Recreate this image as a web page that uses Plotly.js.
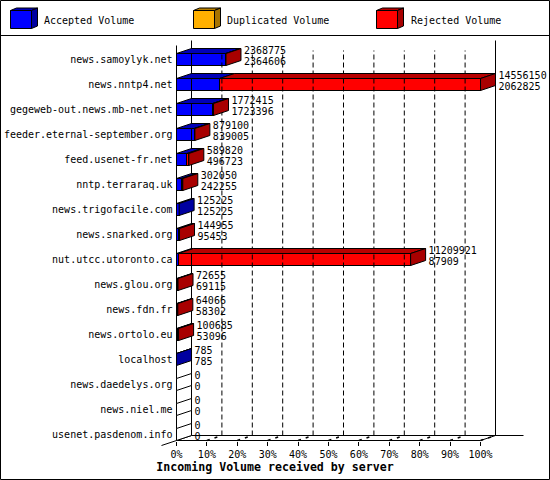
<!DOCTYPE html>
<html>
<head>
<meta charset="utf-8">
<script src="https://cdn.plot.ly/plotly-3.0.1.min.js"></script>
<style>html,body{margin:0;padding:0;background:#fff}#c{width:550px;height:480px}</style>
</head>
<body>
<div id="c"></div>
<script>
// ---- data ----
var servers = ["news.samoylyk.net","news.nntp4.net","gegeweb-out.news.mb-net.net","feeder.eternal-september.org","feed.usenet-fr.net","nntp.terraraq.uk","news.trigofacile.com","news.snarked.org","nut.utcc.utoronto.ca","news.glou.org","news.fdn.fr","news.ortolo.eu","localhost","news.daedelys.org","news.niel.me","usenet.pasdenom.info"];
var totalVolume = [2368775,14556150,1772415,879100,589820,302050,125225,144955,11209921,72655,64066,100685,785,0,0,0];
var acceptedVolume = [2364606,2062825,1723396,839005,496723,242255,125225,95453,87909,69115,58302,53096,785,0,0,0];
var duplicatedVolume = [0,0,0,0,0,0,0,0,0,0,0,0,0,0,0,0];
var percentTicks = [0,10,20,30,40,50,60,70,80,90,100];
var legendNames = ["Accepted Volume","Duplicated Volume","Rejected Volume"];
var chartTitle = "Incoming Volume received by server";

// ---- geometry ----
var W=550,H=480, X0=176.5, PXPCT=3.04, Y0=59.5, ROW=25;
var DX=15/PXPCT, DY=5/ROW, HALF=6/ROW;
var maxV=Math.max.apply(null,totalVolume);
var pct=function(v){return v/maxV*100;};
var xOf=function(p){return (p-X0)/PXPCT;}, yOf=function(p){return (p-Y0)/ROW;};
var px=function(x){return x/W;}, py=function(y){return 1-y/H;};
var rows=servers.map(function(_,i){return i;});
var FONT='"DejaVu Sans Mono", monospace';
var C={blue:'#0000ff',blueTop:'#0000b8',blueSide:'#0000a0',red:'#ff0000',redTop:'#b80000',redSide:'#a80000',dup:'#ffb000',dupTop:'#b88000',dupSide:'#a87400'};

var blueVals=acceptedVolume.map(pct);
var dupVals=duplicatedVolume.map(pct);
var redVals=totalVolume.map(function(t,i){return pct(t-acceptedVolume[i]-duplicatedVolume[i]);});

function bar(vals,color,name){return {type:'bar',orientation:'h',name:name,x:vals,y:rows,width:12/ROW,marker:{color:color,line:{color:'#000',width:1}},hoverinfo:'skip',showlegend:false};}
function poly(list,color){var xs=[],ys=[];list.forEach(function(p){p.forEach(function(q){xs.push(q[0]);ys.push(q[1]);});xs.push(null);ys.push(null);});
  return {type:'scatter',mode:'lines',x:xs,y:ys,fill:'toself',fillcolor:color,line:{color:'#000',width:1},hoverinfo:'skip',showlegend:false};}
function topFace(a,b,i){return [[a,i-HALF],[b,i-HALF],[b+DX,i-HALF-DY],[a+DX,i-HALF-DY],[a,i-HALF]];}
function sideFace(a,i){return [[a,i-HALF],[a+DX,i-HALF-DY],[a+DX,i+HALF-DY],[a,i+HALF],[a,i-HALF]];}

var tb=[],tr=[],sb=[],sr=[],sw=[];
rows.forEach(function(i){
  var a=blueVals[i],t=pct(totalVolume[i]);
  if(t===0){sw.push(sideFace(0,i));return;}
  tb.push(topFace(0,a,i));
  if(redVals[i]>0){tr.push(topFace(a,t,i));sr.push(sideFace(t,i));}
  else sb.push(sideFace(t,i));
});

// grid on the back wall and floor diagonals
var gx=[],gy=[],fx=[],fy=[];
percentTicks.slice(1,10).forEach(function(p){
  gx.push(p+DX,p+DX,null);gy.push(yOf(435.5),yOf(50.5),null);
});
percentTicks.slice(1).forEach(function(p){
  fx.push(p,p+DX,null);fy.push(yOf(440.5),yOf(435.5),null);
});
var frameLines=[
  // front axis, back wall verticals, floor lines, corner diagonal
  {x:[0,0],y:[yOf(45.5),yOf(440.5)]},
  {x:[DX,DX],y:[yOf(40.5),yOf(435.5)]},
  {x:[100+DX,100+DX],y:[yOf(40.5),yOf(435.5)]},
  {x:[0,100],y:[yOf(440.5),yOf(440.5)]},
  {x:[DX,xOf(523.5)],y:[yOf(435.5),yOf(435.5)]},
  {x:[100,100+DX],y:[yOf(440.5),yOf(435.5)]},
  {x:[xOf(161.5),DX],y:[yOf(445.5),yOf(435.5)]}
].map(function(l){return {type:'scatter',mode:'lines',x:l.x,y:l.y,line:{color:'#000',width:1},hoverinfo:'skip',showlegend:false};});

var gridTrace={type:'scatter',mode:'lines',x:gx,y:gy,line:{color:'#000',width:1,dash:'5px,3px'},hoverinfo:'skip',showlegend:false};
var floorTrace={type:'scatter',mode:'lines',x:fx,y:fy,line:{color:'#000',width:1.5,dash:'3px,5px'},hoverinfo:'skip',showlegend:false};

var labelX=rows.map(function(i){return pct(totalVolume[i])+DX+3/PXPCT;});
var lblTop={type:'scatter',mode:'text',x:labelX,y:rows.map(function(i){return i-8.5/ROW;}),text:totalVolume.map(String),textposition:'middle right',textfont:{family:FONT,size:10,color:'#000'},hoverinfo:'skip',showlegend:false,cliponaxis:false};
var lblBot={type:'scatter',mode:'text',x:labelX,y:rows.map(function(i){return i+2.5/ROW;}),text:acceptedVolume.map(String),textposition:'middle right',textfont:{family:FONT,size:10,color:'#000'},hoverinfo:'skip',showlegend:false,cliponaxis:false};

var traces=[bar(blueVals,C.blue,legendNames[0]),bar(dupVals,C.dup,legendNames[1]),bar(redVals,C.red,legendNames[2]),gridTrace]
  .concat(frameLines)
  .concat([floorTrace,poly(sw,'#ffffff'),poly(tb,C.blueTop),poly(tr,C.redTop),poly(sb,C.blueSide),poly(sr,C.redSide),lblTop,lblBot]);

// legend swatches + frame
var shapes=[
  {type:'rect',xref:'paper',yref:'paper',x0:px(0.5),x1:px(549.5),y0:py(0.5),y1:py(479.5),line:{color:'#000',width:1},fillcolor:'rgba(0,0,0,0)'},
  {type:'line',xref:'paper',yref:'paper',x0:px(0),x1:px(550),y0:py(35.5),y1:py(35.5),line:{color:'#000',width:1}}
];
var annos=[];
function pathOf(pts){return 'M'+pts.map(function(p){return px(p[0])+','+py(p[1]);}).join('L')+'Z';}
[[10.5,42,C.blue,C.blueTop,C.blueSide],[193.5,225,C.dup,C.dupTop,C.dupSide],[376.5,409,C.red,C.redTop,C.redSide]].forEach(function(s,k){
  var x=s[0],top=10.5,w=21,h=18,dx=6,dy=2.5;
  var ls={color:'#000',width:1};
  shapes.push({type:'path',xref:'paper',yref:'paper',path:pathOf([[x,top],[x+dx,top-dy],[x+w+dx,top-dy],[x+w,top]]),fillcolor:s[3],line:ls});
  shapes.push({type:'path',xref:'paper',yref:'paper',path:pathOf([[x+w,top],[x+w+dx,top-dy],[x+w+dx,top+h-dy],[x+w,top+h]]),fillcolor:s[4],line:ls});
  shapes.push({type:'rect',xref:'paper',yref:'paper',x0:px(x),x1:px(x+w),y0:py(top),y1:py(top+h),fillcolor:s[2],line:ls});
  annos.push({xref:'paper',yref:'paper',x:px(s[1]),y:py(21),text:legendNames[k],showarrow:false,xanchor:'left',yanchor:'middle',font:{family:FONT,size:10,color:'#000'}});
});

var layout={
  width:W,height:H,margin:{l:0,r:0,t:0,b:0},paper_bgcolor:'#fff',plot_bgcolor:'#fff',
  barmode:'stack',showlegend:false,
  font:{family:FONT,size:10,color:'#000'},
  xaxis:{range:[xOf(0),xOf(W)],tickvals:percentTicks,ticktext:percentTicks.map(function(p){return p+'%';}),
    anchor:'free',position:py(440.5),ticks:'outside',ticklen:4,tickwidth:1,tickcolor:'#000',showgrid:false,zeroline:false,showline:false,
    tickfont:{family:FONT,size:10,color:'#000'},
    title:{text:chartTitle,standoff:4,font:{family:FONT,size:11.6,color:'#000',weight:'bold'}}},
  yaxis:{range:[yOf(H),yOf(0)],tickvals:rows,ticktext:servers,anchor:'free',position:px(X0),
    ticks:'outside',ticklen:2,tickcolor:'rgba(0,0,0,0)',showgrid:false,zeroline:false,showline:false,
    tickfont:{family:FONT,size:10,color:'#000'}},
  shapes:shapes,annotations:annos
};
Plotly.newPlot('c',traces,layout,{displayModeBar:false,staticPlot:true});
</script>
</body>
</html>
